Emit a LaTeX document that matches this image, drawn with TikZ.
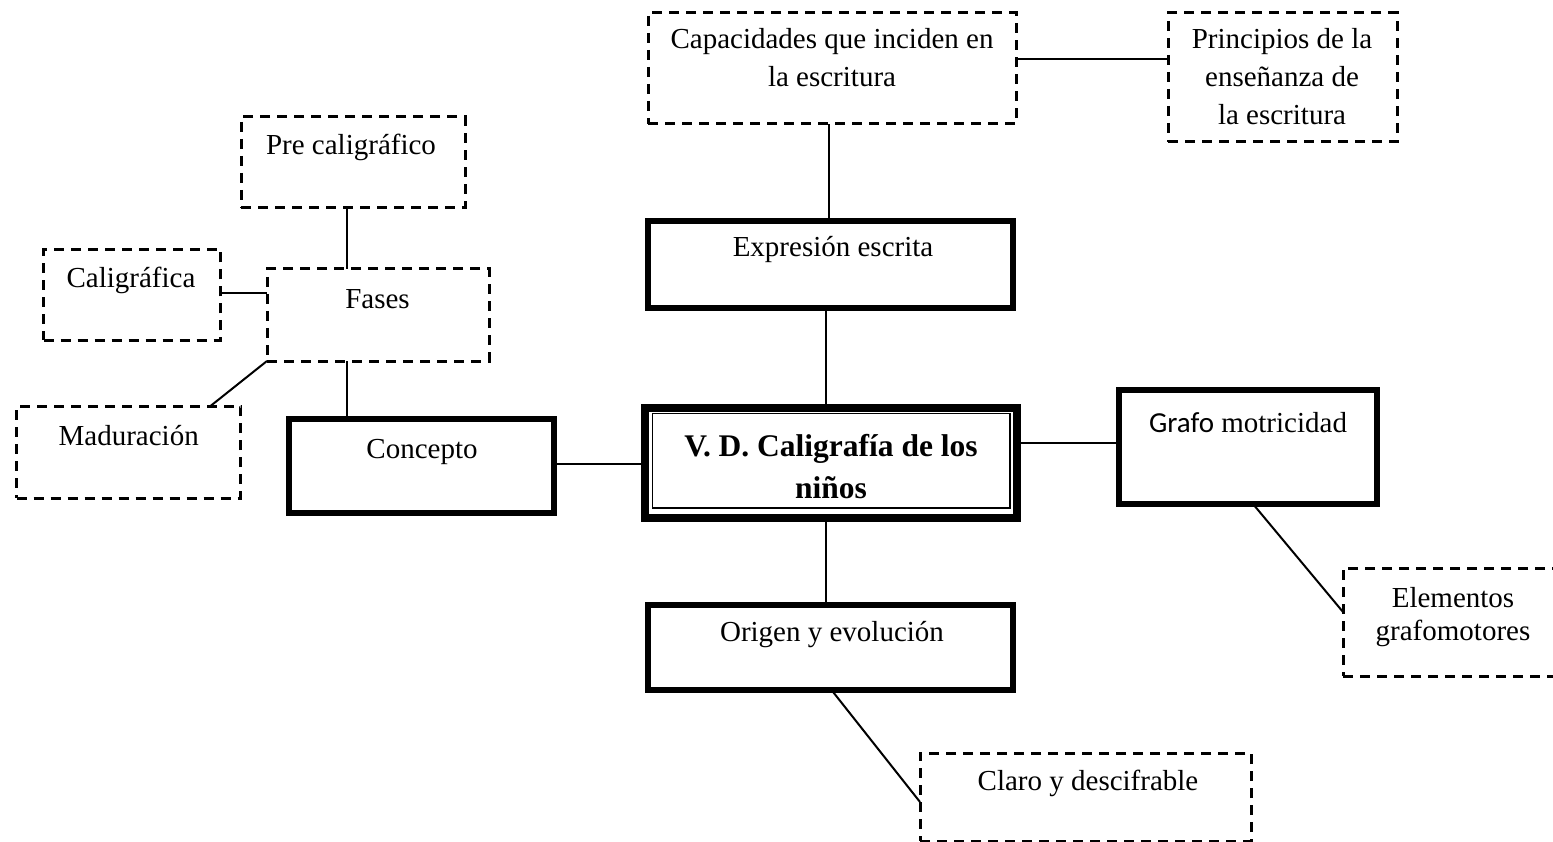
\documentclass[tikz,border=0pt]{standalone}
\usepackage{fontspec}
\setmainfont{Liberation Serif}
\newfontfamily\calib{Carlito}
\begin{document}
\begin{tikzpicture}[x=1pt,y=-1pt,
  dbox/.style={draw, line width=3pt, dash pattern=on 10pt off 7pt, inner sep=0pt, outer sep=0pt, rectangle},
  tbox/.style={draw, line width=6pt, inner sep=0pt, outer sep=0pt, rectangle},
  txt/.style={font=\fontsize{29}{38}\selectfont, align=center, anchor=base, inner sep=0pt},
  conn/.style={line width=2pt}]
\useasboundingbox[fill=white] (0,0) rectangle (1553,842);

% dashed boxes
\node[dbox, minimum width=368pt, minimum height=111pt] (cap) at (832,68.5) {};
\node[dbox, minimum width=229pt, minimum height=129pt] (prin) at (1282.5,77.5) {};
\node[dbox, minimum width=224pt, minimum height=91pt] (pre) at (353,162.5) {};
\node[dbox, minimum width=222pt, minimum height=92pt] (fases) at (378,315) {};
\node[dbox, minimum width=177pt, minimum height=91pt] (calf) at (132,295) {};
\node[dbox, minimum width=224pt, minimum height=92pt] (madur) at (128.5,452) {};
\node[dbox, minimum width=217pt, minimum height=108pt] (elem) at (1451.5,622) {};
\node[dbox, minimum width=331pt, minimum height=88pt] (claro) at (1085.5,797) {};

% thick boxes
\node[tbox, minimum width=365pt, minimum height=87pt] (expr) at (830.5,264.5) {};
\node[tbox, minimum width=265pt, minimum height=94pt] (conc) at (421.5,466) {};
\node[tbox, minimum width=258pt, minimum height=114pt] (grafo) at (1248,447) {};
\node[tbox, minimum width=365pt, minimum height=85pt] (orig) at (830.5,647.5) {};
\node[draw, line width=8pt, inner sep=0pt, outer sep=0pt, minimum width=372pt, minimum height=110pt] (vd) at (831,462.5) {};
\draw[line width=1.5pt] ([shift={(7.5,6)}]vd.north west) rectangle ([shift={(-7,-9.5)}]vd.south east);

% texts (anchor = baseline of the last line)
\node[txt] (tcap) at (832,87) {Capacidades que inciden en\\la escritura};
\node[txt] (tprin) at (1282,125) {Principios de la\\enseñanza de\\la escritura};
\node[txt] (tpre) at (351,155) {Pre caligráfico};
\node[txt] (tfases) at (377.5,308.5) {Fases};
\node[txt] (tcalf) at (131,288) {Caligráfica};
\node[txt] (tmadur) at (128.7,445) {Maduración};
\node[txt] (texpr) at (833,257) {Expresión escrita};
\node[txt] (tconc) at (422,458) {Concepto};
\node[txt, font=\fontsize{31.5}{41.3}\selectfont\bfseries] (tvd) at (831,498) {V. D. Caligrafía de los\\niños};
\node[txt] (tgrafo) at (1248,432) {{\calib Grafo} motricidad};
\node[txt, font=\fontsize{29}{33}\selectfont] (telem) at (1453,640) {Elementos\\grafomotores};
\node[txt] (torig) at (832,641.7) {Origen y evolución};
\node[txt] (tclaro) at (1088,790) {Claro y descifrable};

% connectors
\draw[conn] ([yshift=9.5pt]cap.east) -- ([yshift=9.5pt]cap.east -| prin.west);
\draw[conn] ([xshift=-1.5pt]expr.north) -- ([xshift=-1.5pt]expr.north |- cap.south);
\draw[conn] ([xshift=-5pt]vd.north) -- ([xshift=-5pt]vd.north |- expr.south);
\draw[conn] ([xshift=-5pt]vd.south) -- ([xshift=-5pt]vd.south |- orig.north);
\draw[conn] ([yshift=2pt]conc.east) -- ([yshift=2pt]conc.east -| vd.west);
\draw[conn] ([yshift=4pt]grafo.west) -- ([yshift=4pt]grafo.west -| vd.east);
\draw[conn] ([xshift=5pt]grafo.south) -- ([yshift=10pt]elem.west);
\draw[conn] ([xshift=1pt]orig.south) -- ([yshift=-5pt]claro.west);
\draw[conn] ([xshift=80pt]fases.north west) -- ([xshift=80pt]fases.north west |- pre.south);
\draw[conn] ([xshift=80pt]fases.south west) -- ([xshift=80pt]fases.south west |- conc.north);
\draw[conn] ([yshift=2pt]calf.east) -- ([yshift=2pt]calf.east -| fases.west);
\draw[conn] (fases.south west) -- ([xshift=-30pt]madur.north east);
\end{tikzpicture}
\end{document}
